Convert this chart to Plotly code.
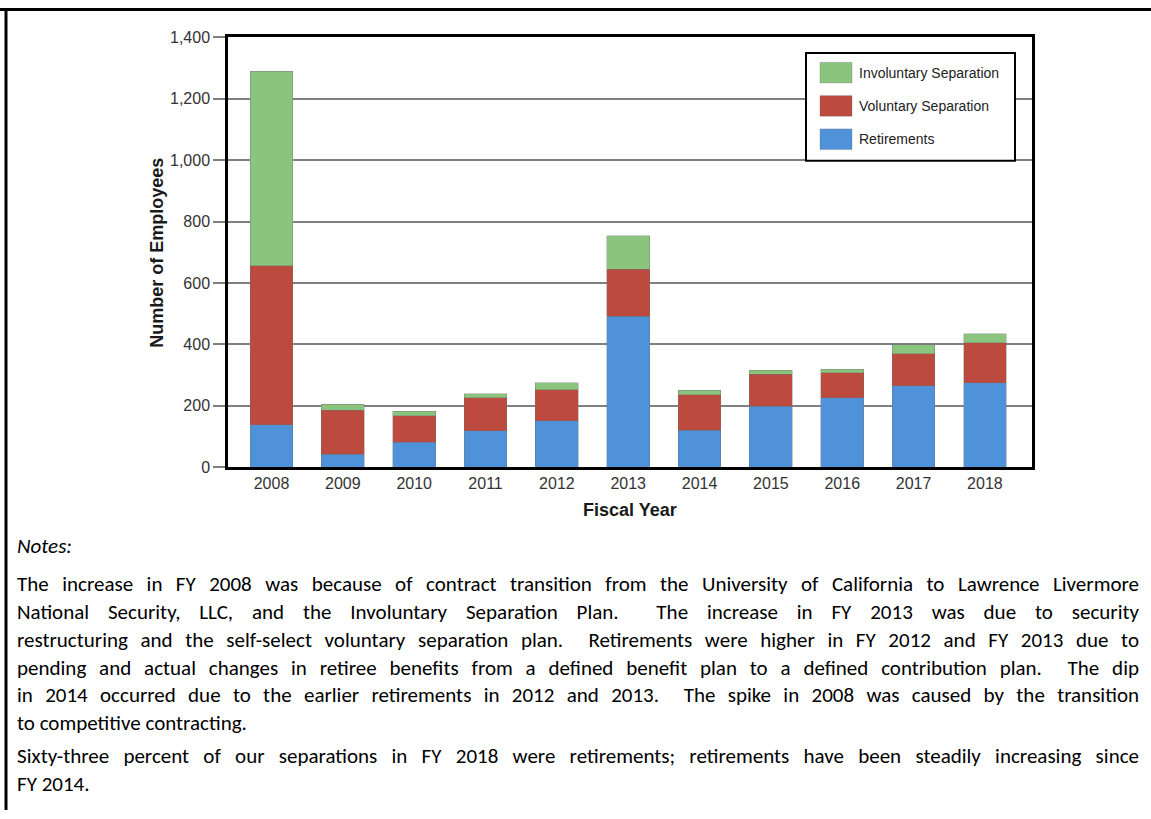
import json
import plotly.graph_objects as go

W, H = 1151, 819

years = ["2008", "2009", "2010", "2011", "2012", "2013", "2014", "2015", "2016", "2017", "2018"]
retirements = [138, 42, 81, 119, 151, 491, 121, 199, 227, 266, 276]
voluntary = [518, 143, 86, 108, 101, 154, 115, 104, 81, 103, 130]
involuntary = [634, 21, 16, 13, 24, 109, 14, 13, 12, 30, 29]

series_names = ["Retirements", "Voluntary Separation", "Involuntary Separation"]
series_colors = ["#4f92da", "#bd4a3f", "#8bc47d"]

y_ticks = [0, 200, 400, 600, 800, 1000, 1200, 1400]

notes_title = "Notes:"
notes_lines = [
    "The increase in FY 2008 was because of contract transition from the University of California to Lawrence Livermore",
    "National Security, LLC, and the Involuntary Separation Plan.\u00a0 The increase in FY\u00a02013 was due to security",
    "restructuring and the self-select voluntary separation plan.\u00a0 Retirements were higher in FY 2012 and FY 2013 due to",
    "pending and actual changes in retiree benefits from a defined benefit plan to a defined contribution plan.\u00a0 The dip",
    "in 2014 occurred due to the earlier retirements in 2012 and 2013.\u00a0 The spike in 2008 was caused by the transition",
    "to competitive contracting.",
    "Sixty-three percent of our separations in FY 2018 were retirements; retirements have been steadily increasing since",
    "FY 2014.",
]
notes_justify = [True, True, True, True, True, False, True, False]


def px(x):
    return x / W


def py(y):
    return 1 - y / H


fig = go.Figure()
for name, vals, col in zip(series_names, [retirements, voluntary, involuntary], series_colors):
    fig.add_trace(go.Bar(
        x=years, y=vals, name=name, width=0.6,
        marker=dict(color=col, line=dict(color="rgba(110,110,110,0.45)", width=0.8)),
        showlegend=False,
    ))

plot_l, plot_r, plot_t, plot_b = 228, 1032, 30, 469

fig.update_layout(
    width=W, height=H,
    margin=dict(l=0, r=0, t=0, b=0, pad=0),
    paper_bgcolor="white", plot_bgcolor="white",
    barmode="stack",
    font=dict(family="Liberation Sans, Arial, sans-serif", color="#333333"),
    xaxis=dict(
        domain=[px(plot_l), px(plot_r)],
        type="category", range=[-0.61, 10.66],
        showline=True, linecolor="black", linewidth=2.5, mirror=True,
        ticks="", showgrid=False, zeroline=False,
        tickfont=dict(size=16, color="#333333"),
    ),
    yaxis=dict(
        domain=[py(plot_b), py(plot_t)],
        range=[0, 1400], tickvals=y_ticks, tickformat=",",
        showline=True, linecolor="black", linewidth=2.5, mirror=True,
        ticks="outside", ticklen=12, tickwidth=1.5, tickcolor="#7f7f7f",
        showgrid=True, gridcolor="#808080", gridwidth=1.8, zeroline=False,
        tickfont=dict(size=16, color="#333333"),
    ),
)

ann = []
# axis titles
ann.append(dict(x=px(157), y=py(250), xref="paper", yref="paper", text="<b>Number of Employees</b>",
                textangle=-90, showarrow=False, xanchor="center", yanchor="middle",
                font=dict(size=18, color="#1a1a1a", family="Liberation Sans, Arial, sans-serif")))
ann.append(dict(x=px(630), y=py(513), xref="paper", yref="paper", text="<b>Fiscal Year</b>",
                showarrow=False, xanchor="center", yanchor="middle",
                font=dict(size=18, color="#1a1a1a", family="Liberation Sans, Arial, sans-serif")))

# legend (drawn manually)
shapes = []
shapes.append(dict(type="rect", xref="paper", yref="paper", x0=px(806), x1=px(1015), y0=py(156), y1=py(46),
                   line=dict(color="black", width=2), fillcolor="white", layer="above"))
leg_items = list(zip(series_names, series_colors))[::-1]
leg_y = [66, 100, 134]
for (nm, col), yy in zip(leg_items, leg_y):
    shapes.append(dict(type="rect", xref="paper", yref="paper", x0=px(820), x1=px(852), y0=py(yy + 10.5), y1=py(yy - 10.5),
                       line=dict(color="rgba(110,110,110,0.4)", width=0.8), fillcolor=col, layer="above"))
    ann.append(dict(x=px(857), y=py(yy), xref="paper", yref="paper", text=nm, showarrow=False,
                    xanchor="left", yanchor="middle",
                    font=dict(size=14, color="#222222", family="Liberation Sans, Arial, sans-serif")))

# outer frame lines
shapes.append(dict(type="line", xref="paper", yref="paper", x0=0, x1=1, y0=py(1.5), y1=py(1.5),
                   line=dict(color="black", width=3)))
shapes.append(dict(type="line", xref="paper", yref="paper", x0=px(6), x1=px(6), y0=0, y1=1,
                   line=dict(color="black", width=3)))

notes_font = "Carlito, Calibri, Lato, sans-serif"
notes_size = 21
ann.append(dict(x=px(16), y=py(549), xref="paper", yref="paper", text="<i>" + notes_title + "</i>",
                showarrow=False, xanchor="left", yanchor="middle", align="left", borderpad=0,
                font=dict(size=notes_size, color="black", family=notes_font)))

line_y = [588, 616.5, 645, 673.5, 702, 730.5, 764, 792]
justify_targets = []
for i, (txt, yy) in enumerate(zip(notes_lines, line_y)):
    idx = len(ann)
    ann.append(dict(x=px(16), y=py(yy), xref="paper", yref="paper", text=txt,
                    showarrow=False, xanchor="left", yanchor="middle", align="left", borderpad=0,
                    font=dict(size=notes_size, color="black", family=notes_font)))
    if notes_justify[i]:
        justify_targets.append([idx, 1139 - 17])

fig.update_layout(annotations=ann, shapes=shapes)

post = """
document.body.style.margin = '0';
document.body.style.padding = '0';
var gd = document.getElementById('{plot_id}');
var targets = %s;
function justify(){
  targets.forEach(function(t){
    var el = gd.querySelector('g.annotation[data-index="' + t[0] + '"] text.annotation-text');
    if(!el) return;
    el.style.wordSpacing = '0px';
    el.setAttribute('text-anchor', 'start');
    var w = el.getComputedTextLength();
    var n = (el.textContent.match(/[ \\u00a0]/g) || []).length;
    if(n > 0){ el.style.wordSpacing = ((t[1] - w) / n) + 'px'; }
  });
}
justify();
""" % json.dumps(justify_targets)

fig.write_html("out.html", post_script=post, config={"displayModeBar": False})
